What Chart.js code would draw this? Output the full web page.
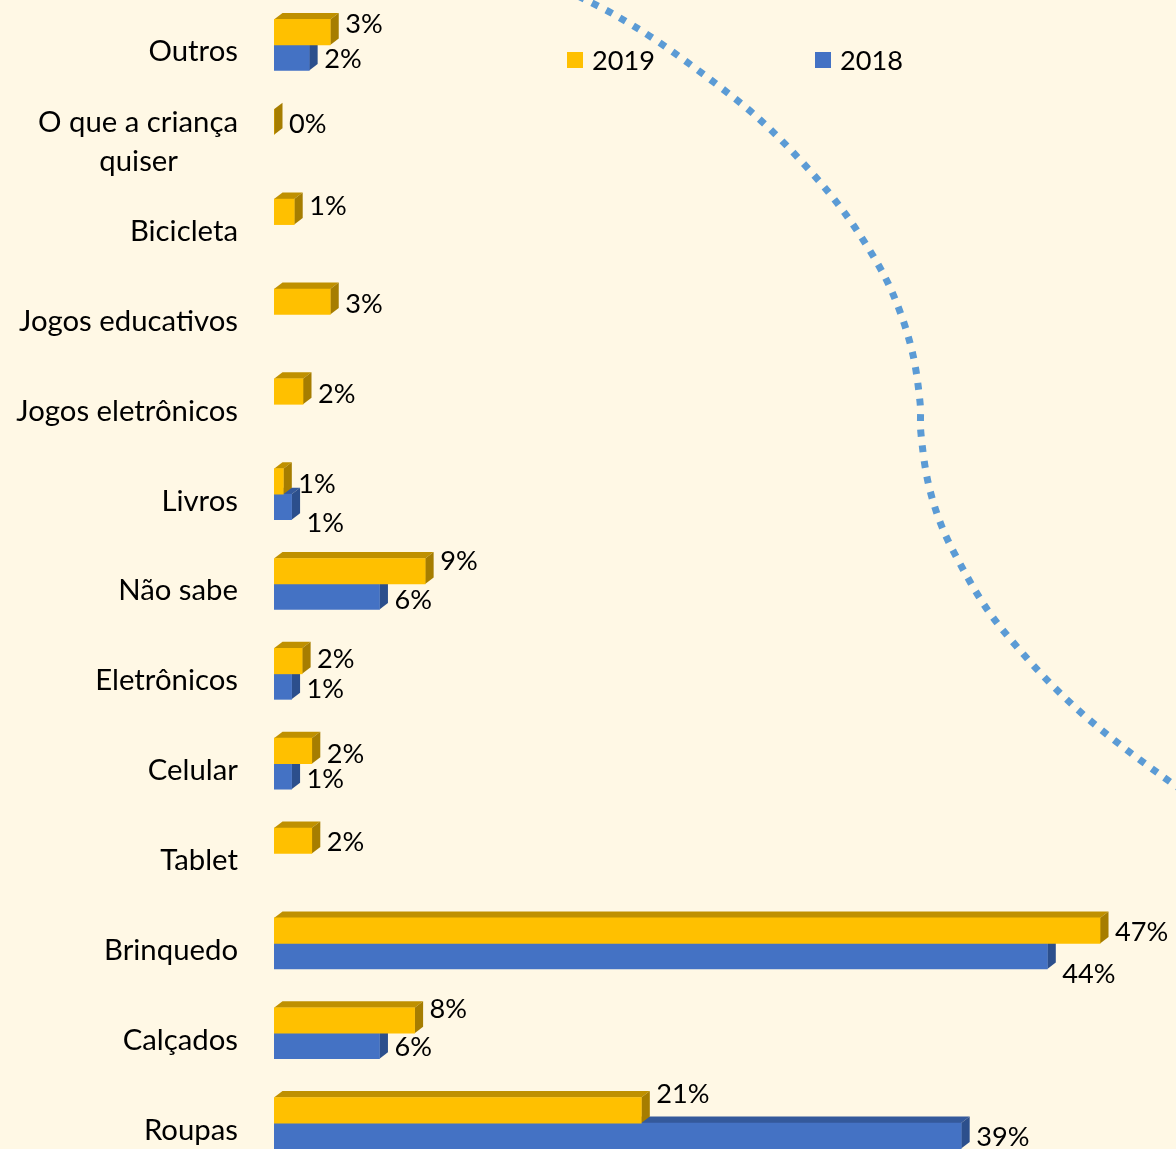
<!DOCTYPE html>
<html><head><meta charset="utf-8">
<script src="https://cdn.jsdelivr.net/npm/chart.js@4/dist/chart.umd.min.js"></script>
<style>
html,body{margin:0;padding:0;background:#FFF8E5;overflow:hidden;width:1176px;height:1149px}
#wrap{position:absolute;left:0;top:0;width:1176px;height:1168px}
</style></head>
<body><div id="wrap"><canvas id="c" width="1176" height="1168"></canvas></div>
<script>
// ---- data ----
const categories = ['Outros', ['O que a criança','quiser'], 'Bicicleta', 'Jogos educativos', 'Jogos eletrônicos', 'Livros', 'Não sabe', 'Eletrônicos', 'Celular', 'Tablet', 'Brinquedo', 'Calçados', 'Roupas'];
const values2019 = [3.2, 0, 1.15, 3.2, 1.65, 0.53, 8.6, 1.6, 2.15, 2.15, 47.0, 8.0, 20.9];
const values2018 = [2.0, null, null, null, null, 1.0, 6.0, 1.0, 1.0, null, 44.0, 6.0, 39.1];
const seriesNames = ['2019', '2018'];

// ---- style ----
const nudge2019 = [-9, 1.5, -7, 2, 2, 1.5, -11, -2.5, 2, 0.5, 1, -12, -17];
const nudge2018 = [1, 0, 0, 0, 0, 15, 2, 1.5, 1.5, 0, 17, 0, 0];
const COLORS = [
  {front:'#FFC000', top:'#BF9000', side:'#A67D00'},
  {front:'#4472C4', top:'#34599B', side:'#2C4F8C'}
];
const DX = 8.5, DY = -6.5;
const BG = '#FFF8E5';

const mctx = document.createElement('canvas').getContext('2d');
function fitSize(text, target){
  mctx.font = '100px Lato';
  return 100 * target / mctx.measureText(text).width;
}
const catSize = fitSize('Jogos educativos', 219);
const numSize = fitSize('2019', 63);

// centre the lines of a multi-line label on each other (right-aligned block)
function centredLines(lbl){
  if(!Array.isArray(lbl)) return lbl;
  mctx.font = catSize + 'px Lato';
  const widths = lbl.map(t=>mctx.measureText(t).width);
  const maxW = Math.max(...widths);
  const sp = mctx.measureText(' ').width;
  return lbl.map((t,i)=> t + ' '.repeat(Math.round((maxW - widths[i]) / 2 / sp)));
}

const bgPlugin = {
  id:'bg',
  beforeDraw(chart){
    const ctx = chart.ctx;
    ctx.save();
    ctx.fillStyle = BG;
    ctx.fillRect(0,0,chart.width,chart.height);
    // decorative dotted curve
    const pts = [[578,-4],[615,15],[657,41],[707,77],[757,117],[803,163],[844,212],[879,266],[899,309],[913,355],[920,402],[921,434],[928,482],[942,527],[964,571],[989,612],[1018,648],[1051,684],[1086,717],[1123,747],[1162,776],[1200,803]];
    ctx.beginPath();
    ctx.moveTo(pts[0][0],pts[0][1]);
    for(let i=0;i<pts.length-1;i++){
      const p0=pts[Math.max(0,i-1)], p1=pts[i], p2=pts[i+1], p3=pts[Math.min(pts.length-1,i+2)];
      ctx.bezierCurveTo(p1[0]+(p2[0]-p0[0])/6, p1[1]+(p2[1]-p0[1])/6,
                        p2[0]-(p3[0]-p1[0])/6, p2[1]-(p3[1]-p1[1])/6, p2[0], p2[1]);
    }
    ctx.strokeStyle = '#5B9BD5';
    ctx.lineWidth = 7;
    ctx.lineCap = 'butt';
    ctx.setLineDash([7,8.7]);
    ctx.stroke();
    ctx.restore();
  }
};

const depthPlugin = {
  id:'depth',
  beforeDatasetsDraw(chart){
    const ctx = chart.ctx;
    ctx.save();
    [1,0].forEach(di=>{
      const meta = chart.getDatasetMeta(di);
      const data = chart.data.datasets[di].data;
      meta.data.forEach((el,i)=>{
        if(data[i]==null) return;
        const p = el.getProps(['x','y','base','height'], true);
        const top = p.y - p.height/2, bot = p.y + p.height/2;
        const x0 = Math.min(p.base,p.x), x1 = Math.max(p.base,p.x);
        ctx.fillStyle = COLORS[di].top;
        ctx.beginPath();
        ctx.moveTo(x0,top); ctx.lineTo(x1,top); ctx.lineTo(x1+DX,top+DY); ctx.lineTo(x0+DX,top+DY); ctx.closePath();
        ctx.fill();
        ctx.fillStyle = COLORS[di].side;
        ctx.beginPath();
        ctx.moveTo(x1,top); ctx.lineTo(x1+DX,top+DY); ctx.lineTo(x1+DX,bot+DY); ctx.lineTo(x1,bot); ctx.closePath();
        ctx.fill();
      });
    });
    ctx.restore();
  }
};

const labelPlugin = {
  id:'vlabels',
  afterDatasetsDraw(chart){
    const ctx = chart.ctx;
    ctx.save();
    ctx.font = numSize + 'px Lato';
    ctx.fillStyle = '#000';
    ctx.textAlign = 'left';
    ctx.textBaseline = 'middle';
    const nudges = [nudge2019, nudge2018];
    [0,1].forEach(di=>{
      const meta = chart.getDatasetMeta(di);
      const data = chart.data.datasets[di].data;
      meta.data.forEach((el,i)=>{
        if(data[i]==null) return;
        const p = el.getProps(['x','y'], true);
        ctx.fillText(Math.round(data[i]) + '%', p.x + 15, p.y + nudges[di][i] + 1);
      });
    });
    ctx.restore();
  }
};

const legendPlugin = {
  id:'mylegend',
  afterDraw(chart){
    const ctx = chart.ctx;
    ctx.save();
    ctx.font = numSize + 'px Lato';
    ctx.textBaseline = 'middle';
    ctx.textAlign = 'left';
    const items = [{x:567, c:COLORS[0].front, t:seriesNames[0]}, {x:815, c:COLORS[1].front, t:seriesNames[1]}];
    items.forEach(it=>{
      ctx.fillStyle = it.c;
      ctx.fillRect(it.x, 52, 16, 16);
      ctx.fillStyle = '#000';
      ctx.fillText(it.t, it.x + 25, 61);
    });
    ctx.restore();
  }
};

const XMAX = (1176 - 274) / 17.575;

new Chart(document.getElementById('c'), {
  type:'bar',
  data:{
    labels:categories,
    datasets:[
      {label:seriesNames[0], data:values2019, backgroundColor:COLORS[0].front, barThickness:25.5},
      {label:seriesNames[1], data:values2018, backgroundColor:COLORS[1].front, barThickness:25.5}
    ]
  },
  options:{
    indexAxis:'y',
    responsive:false,
    animation:false,
    devicePixelRatio:1,
    layout:{padding:0},
    plugins:{legend:{display:false}, tooltip:{enabled:false}},
    scales:{
      x:{display:false, min:0, max:XMAX},
      y:{
        grid:{display:false, drawTicks:false},
        border:{display:false},
        ticks:{
          font:{family:'Lato', size:catSize, lineHeight:'39px'}, color:'#000', padding:36, labelOffset:7, autoSkip:false,
          callback:function(value){ return centredLines(this.getLabelForValue(value)); }
        },
        afterFit:(s)=>{ s.width = 274; s.paddingTop = 0; s.paddingBottom = 0; }
      }
    }
  },
  plugins:[bgPlugin, depthPlugin, labelPlugin, legendPlugin]
});
</script>
</body></html>
